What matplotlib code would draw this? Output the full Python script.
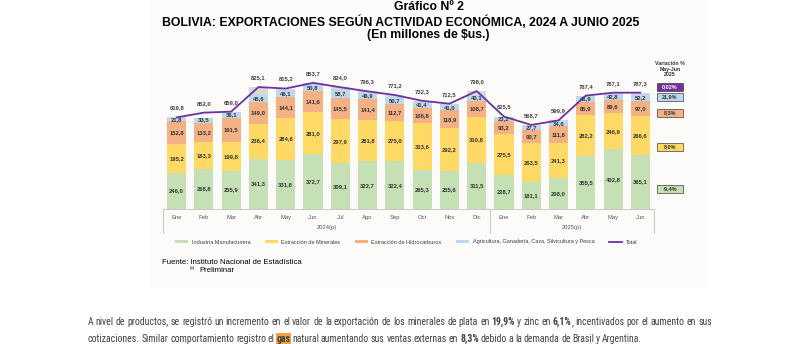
import matplotlib
matplotlib.use("Agg")
import matplotlib.pyplot as plt
import matplotlib.transforms as mtransforms
from matplotlib import font_manager
from matplotlib.font_manager import FontProperties
from matplotlib.patches import Rectangle
from matplotlib.lines import Line2D
import numpy as np

plt.rcParams['font.family'] = ['Liberation Sans', 'DejaVu Sans']

meses = ["Ene", "Feb", "Mar", "Abr", "May", "Jun", "Jul", "Ago", "Sep", "Oct", "Nov", "Dic",
         "Ene", "Feb", "Mar", "Abr", "May", "Jun"]
anios = ["2024(p)", "2025(p)"]

manufactura = [246.0, 268.8, 255.9, 341.3, 331.8, 372.7, 309.1, 322.7, 322.4, 265.3, 255.6, 311.5,
               228.7, 181.1, 208.0, 355.5, 402.8, 365.1]
minerales = [195.2, 183.3, 199.8, 236.4, 284.6, 281.0, 297.9, 281.8, 275.0, 313.6, 292.2, 310.8,
             275.5, 263.5, 241.3, 282.2, 246.9, 266.6]
hidrocarburos = [152.8, 133.2, 161.5, 149.0, 144.1, 141.6, 145.5, 141.4, 112.7, 106.8, 118.9, 108.7,
                 93.2, 90.7, 111.8, 85.9, 89.6, 97.0]
agricultura = [21.8, 33.5, 36.1, 45.6, 46.1, 50.8, 58.7, 46.9, 50.7, 41.4, 41.0, 40.1,
               23.2, 27.7, 34.6, 41.9, 42.8, 52.2]
# resto sin etiqueta (gris), estimado del grafico
otros = [4.0, 0.0, 5.7, 52.8, 8.6, 7.6, 12.8, 3.5, 10.4, 5.2, 4.8, 26.9,
         4.9, 5.7, 4.2, 1.9, 5.0, 6.4]
total = [619.8, 652.0, 659.0, 825.1, 815.2, 853.7, 824.0, 796.3, 771.2, 732.3, 712.5, 798.0,
         625.5, 568.7, 599.9, 767.4, 787.1, 787.3]

variacion = ["0,02%", "21,9%", "8,3%", "8,0%", "-9,4%"]

series = [("Industria Manufacturera", manufactura, "#c5e0b4"),
          ("Extracción de Minerales", minerales, "#ffd966"),
          ("Extracción de Hidrocarburos", hidrocarburos, "#f4b183"),
          ("Agricultura, Ganadería, Caza, Silvicultura y Pesca", agricultura, "#bdd7ee")]
morado = "#7030a0"

W, H = 800, 344


def fx(x):
    return x / W


def fy(y):
    return 1 - y / H


def coma(v):
    return f"{v:.1f}".replace(".", ",")


fig = plt.figure(figsize=(8, 3.44), dpi=100)
fig.patch.set_facecolor("white")
fig.patches.append(Rectangle((fx(150), fy(288)), fx(555), 288 / H, transform=fig.transFigure,
                             facecolor="#fcfbfa", edgecolor="none", zorder=-5))

ax = fig.add_axes([fx(163), fy(209), fx(491), 133 / H])
ax.set_facecolor("none")

x = np.arange(len(meses))
base = np.zeros(len(meses))
handles = []
for nombre, vals, col in series:
    vals = np.array(vals)
    b = ax.bar(x, vals, 0.7, bottom=base, color=col, label=nombre, zorder=2)
    handles.append(b)
    for xi, b0, v in zip(x, base, vals):
        ax.text(xi, b0 + v / 2, coma(v), ha="center", va="center", fontsize=4.2,
                fontweight="bold", color="#333333", zorder=4)
    base = base + vals
ax.bar(x, otros, 0.7, bottom=base, color="#d9d9d9", zorder=2)

linea, = ax.plot(x, total, color=morado, lw=1.3, zorder=3, label="Total")
handles.append(linea)
for xi, t in zip(x, total):
    ax.annotate(coma(t), (xi, t), xytext=(0, 5), textcoords="offset points",
                ha="center", va="bottom", fontsize=4.2, fontweight="bold", color="#404040")

ax.set_xlim(-0.5, len(meses) - 0.5)
ax.set_ylim(0, 900)
ax.set_yticks([])
ax.set_xticks(x)
ax.set_xticklabels(meses, fontsize=4.2, color="#595959")
ax.tick_params(axis="x", length=0, pad=4)
for s in ["top", "left", "right"]:
    ax.spines[s].set_visible(False)
ax.spines["bottom"].set_color("#bfbfbf")
ax.spines["bottom"].set_linewidth(0.6)

tr = mtransforms.blended_transform_factory(ax.transData, fig.transFigure)
for xs in [-0.5, 11.5, 17.5]:
    fig.lines.append(Line2D([xs, xs], [fy(209), fy(233)], transform=tr,
                            color="#bfbfbf", lw=0.6))
ax.text(5.5, fy(227), anios[0], transform=tr, ha="center", va="center", fontsize=4.2, color="#595959")
ax.text(14.5, fy(227), anios[1], transform=tr, ha="center", va="center", fontsize=4.2, color="#595959")

fig.legend(handles, [h.get_label() for h in handles], loc="center", bbox_to_anchor=(fx(406), fy(242)),
           ncol=5, frameon=False, fontsize=4.0, handlelength=2.4, handleheight=0.5,
           columnspacing=2.6, handletextpad=0.6, labelcolor="#404040")

# titulos
fig.text(fx(429), fy(7), "Gráfico Nº 2", ha="center", va="center", fontsize=8.8, fontweight="bold")
fig.text(fx(401), fy(22), "BOLIVIA: EXPORTACIONES SEGÚN ACTIVIDAD ECONÓMICA, 2024 A JUNIO 2025",
         ha="center", va="center", fontsize=8.8, fontweight="bold")
fig.text(fx(428), fy(35), "(En millones de $us.)", ha="center", va="center", fontsize=8.8, fontweight="bold")

# variacion
fig.text(fx(670), fy(69), "Variación %\nMay-Jun\n2025", ha="center", va="center", fontsize=3.8,
         fontweight="bold", color="#333333", linespacing=1.1)
cajas = [(87, morado, "white"), (97, "#bdd7ee", "#333333"), (113, "#f4b183", "#333333"),
         (147, "#ffd966", "#333333"), (189, "#c5e0b4", "#333333")]
for (yy, fc, tc), txt in zip(cajas, variacion):
    fig.patches.append(Rectangle((fx(657), fy(yy + 4)), fx(26), 8 / H, transform=fig.transFigure,
                                 facecolor=fc, edgecolor="#404040", lw=0.5, zorder=3))
    fig.text(fx(670), fy(yy), txt, ha="center", va="center", fontsize=4.0, fontweight="bold",
             color=tc, zorder=4)

# fuente
fig.text(fx(162), fy(262), "Fuente: Instituto Nacional de Estadística", ha="left", va="center", fontsize=5.6)
fig.text(fx(190), fy(268), "(p)", ha="left", va="center", fontsize=3.2)
fig.text(fx(199), fy(271), "Preliminar", ha="left", va="center", fontsize=5.6)


# parrafo: buscar una fuente estrecha instalada (por archivo)
def buscar_estrecha():
    preferidas = ["liberationsansnarrow", "robotocondensed", "notosans-condensed",
                  "opensanscondensed", "dejavusanscondensed"]
    archivos = [f.fname for f in font_manager.fontManager.ttflist]
    for pref in preferidas:
        reg, neg = None, None
        for fn in archivos:
            base_n = fn.lower().replace(" ", "").replace("_", "").split("/")[-1]
            if pref not in base_n or "italic" in base_n or "oblique" in base_n:
                continue
            resto = base_n[base_n.index(pref) + len(pref):]
            if resto.startswith("-regular") or resto.startswith(".") or resto.startswith("-book"):
                reg = reg or fn
            elif resto.startswith("-bold") and "extra" not in resto and "semi" not in resto:
                neg = neg or fn
        if reg:
            return reg, (neg or reg)
    return None, None


f_reg, f_neg = buscar_estrecha()


def props(peso, fs):
    if f_reg:
        return FontProperties(fname=f_neg if peso == "bold" else f_reg, size=fs)
    return FontProperties(family=["Roboto", "DejaVu Sans"], weight=peso, size=fs)


linea1 = [("A nivel de productos, se registró un incremento en el valor de la exportación de los "
           "minerales de plata en", "normal", None), ("19,9%", "bold", None), ("y zinc en", "normal", None),
          ("6,1%", "bold", None), (", incentivados por el aumento en sus", "normal", None)]
linea2 = [("cotizaciones. Similar comportamiento registro el", "normal", None), ("gas", "bold", "#f4a341"),
          ("natural aumentando sus ventas externas en", "normal", None), ("8,3%", "bold", None),
          ("debido a la demanda de Brasil y Argentina.", "normal", None)]

renderer = fig.canvas.get_renderer()


def ancho(s, fs, peso="normal"):
    t = fig.text(0, 0, s, fontproperties=props(peso, fs))
    w = t.get_window_extent(renderer).width
    t.remove()
    return w


def palabras(linea):
    out = []
    for texto, peso, fondo in linea:
        for i, w in enumerate(texto.split(" ")):
            pegado = (i == 0 and texto.startswith(","))
            out.append((w, peso, fondo, pegado))
    return out


def natural(linea, fs):
    ws = palabras(linea)
    esp = ancho("a a", fs) - 2 * ancho("a", fs)
    huecos = sum(0 if w[3] else 1 for w in ws[1:])
    return sum(ancho(w, fs, p) for w, p, _, _ in ws) + esp * huecos


# tamano: la primera linea casi llena el ancho del parrafo (88 -> 712 px)
fs_p = 6.0 * 620 / natural(linea1, 6.0)


def escribir(linea, y, x0, x1=None, esp=None):
    ws = palabras(linea)
    arts = []
    for w, peso, fondo, pegado in ws:
        t = fig.text(0, fy(y), w, ha="left", va="center", fontproperties=props(peso, fs_p),
                     color="#404040")
        if fondo:
            t.set_bbox(dict(facecolor=fondo, edgecolor="none", pad=0.6))
        arts.append(t)
    anchos = [ancho(w, fs_p, peso) for w, peso, _, _ in ws]
    huecos = [0 if ws[i][3] else 1 for i in range(1, len(ws))]
    if x1 is not None:
        esp = (x1 - x0 - sum(anchos)) / sum(huecos)
    xc = x0
    for i, a in enumerate(arts):
        if i > 0:
            xc += esp * huecos[i - 1]
        a.set_x(fx(xc))
        xc += anchos[i]
    return esp


esp1 = escribir(linea1, 322, 88, 712)
escribir(linea2, 339, 88, esp=esp1 * 0.85)

fig.savefig("out.png", dpi=100)
